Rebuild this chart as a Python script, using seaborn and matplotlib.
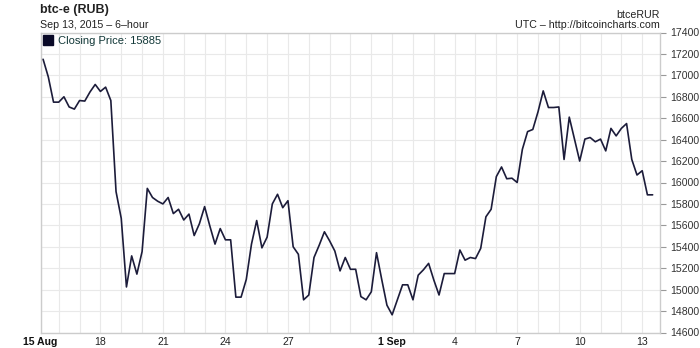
import matplotlib
matplotlib.use("Agg")
import matplotlib.pyplot as plt
import matplotlib.dates as mdates
import matplotlib.ticker as mticker
from matplotlib.lines import Line2D
import pandas as pd
import seaborn as sns

# ---- data ----
start_time = "2015-08-15 06:00"
close = [
    17150, 16985, 16750, 16750, 16800, 16705, 16685, 16765, 16760, 16845,
    16915, 16850, 16890, 16765, 15915, 15665, 15025, 15315, 15145, 15355,
    15945, 15860, 15825, 15800, 15860, 15710, 15750, 15650, 15705, 15505,
    15615, 15775, 15595, 15425, 15570, 15465, 15465, 14930, 14930, 15095,
    15425, 15645, 15390, 15490, 15800, 15890, 15765, 15830, 15400, 15330,
    14905, 14950, 15300, 15415, 15540, 15455, 15360, 15175, 15300, 15190,
    15190, 14935, 14905, 14980, 15345, 15095, 14855, 14765, 14905, 15045,
    15045, 14905, 15135, 15185, 15245, 15090, 14950, 15150, 15150, 15150,
    15370, 15275, 15300, 15290, 15385, 15680, 15750, 16055, 16145, 16035,
    16040, 16000, 16310, 16475, 16495, 16660, 16855, 16700, 16700, 16705,
    16215, 16610, 16405, 16200, 16405, 16420, 16380, 16405, 16295, 16505,
    16435, 16505, 16550, 16215, 16070, 16110, 15885, 15885,
]
tick_dates = ["2015-08-15 03:00", "2015-08-18 00:00", "2015-08-21 00:00",
              "2015-08-24 00:00", "2015-08-27 00:00", "2015-09-01 00:00",
              "2015-09-04 00:00", "2015-09-07 00:00", "2015-09-10 00:00",
              "2015-09-13 00:00"]
tick_labels = ["15 Aug", "18", "21", "24", "27", "1 Sep", "4", "7", "10", "13"]
bold_labels = ["15 Aug", "1 Sep"]
y_ticks = list(range(14600, 17401, 200))

times = pd.date_range(start_time, periods=len(close), freq="6h")
df = pd.DataFrame({"time": times, "close": close})

# ---- style ----
sns.set_style("white")
plt.rcParams["font.family"] = ["Liberation Sans", "DejaVu Sans"]

fig = plt.figure(figsize=(7.0, 3.48), dpi=100)
ax = fig.add_axes([40.5 / 700, 1 - 332.5 / 348, 619.5 / 700, 300 / 348])

line_color = "#1c1c3a"
sns.lineplot(data=df, x="time", y="close", ax=ax, color=line_color,
             linewidth=1.2, zorder=3)

ax.set_xlim(pd.Timestamp("2015-08-15 03:00"), pd.Timestamp("2015-09-13 20:30"))
ax.set_ylim(14600, 17400)

# x axis
tick_nums = [mdates.date2num(pd.Timestamp(d)) for d in tick_dates]
ax.xaxis.set_major_locator(mticker.FixedLocator(tick_nums))
ax.xaxis.set_major_formatter(mticker.FixedFormatter(tick_labels))
ax.xaxis.set_minor_locator(mdates.DayLocator())
ax.tick_params(axis="x", which="both", length=0, pad=3, labelsize=7.6,
               labelcolor="#222222")
for lab in ax.get_xticklabels():
    if lab.get_text() in bold_labels:
        lab.set_fontweight("bold")
        lab.set_color("#111111")

# y axis on the right
ax.yaxis.tick_right()
ax.set_yticks(y_ticks)
ax.tick_params(axis="y", which="major", length=4, width=0.8, color="#999999",
               pad=3, labelsize=7.6, labelcolor="#333333")

ax.grid(True, which="both", axis="x", color="#e9e9e9", linewidth=0.8)
ax.grid(True, which="major", axis="y", color="#e9e9e9", linewidth=0.8)
ax.set_axisbelow(True)

for s in ax.spines.values():
    s.set_visible(True)
    s.set_color("#cccccc")
    s.set_linewidth(1.0)

ax.set_xlabel("")
ax.set_ylabel("")

# legend
handle = Line2D([], [], marker="s", linestyle="none", markersize=6.5,
                color="#0a0a28")
leg = ax.legend([handle], [f"Closing Price: {close[-1]}"], loc="upper left",
                bbox_to_anchor=(0.0, 0.995), frameon=False, borderpad=0.2,
                borderaxespad=0.0, handlelength=0.9, handletextpad=0.5,
                prop={"size": 8})
for t in leg.get_texts():
    t.set_color("#123838")

# header texts
fig.text(40 / 700, 1 - 10 / 348, "btc-e (RUB)", ha="left", va="center",
         fontsize=9, fontweight="bold", color="#222222")
fig.text(40 / 700, 1 - 25 / 348, "Sep 13, 2015 – 6–hour", ha="left",
         va="center", fontsize=7.7, color="#222222")
fig.text(660 / 700, 1 - 15 / 348, "btceRUR", ha="right", va="center",
         fontsize=7.7, color="#222222")
fig.text(660 / 700, 1 - 25 / 348, "UTC – http://bitcoincharts.com", ha="right",
         va="center", fontsize=7.7, color="#222222")

fig.savefig("out.png", dpi=100, facecolor="white")
